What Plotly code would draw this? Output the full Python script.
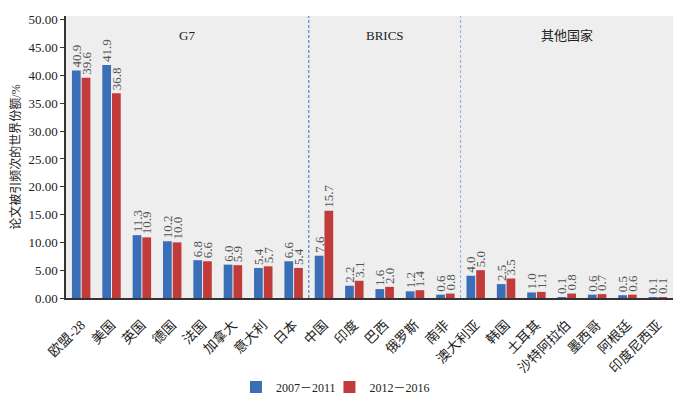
import plotly.graph_objects as go

categories = ["欧盟-28", "美国", "英国", "德国", "法国", "加拿大", "意大利", "日本",
              "中国", "印度", "巴西", "俄罗斯", "南非",
              "澳大利亚", "韩国", "土耳其", "沙特阿拉伯", "墨西哥", "阿根廷", "印度尼西亚"]
share_2007_2011 = [40.9, 41.9, 11.3, 10.2, 6.8, 6.0, 5.4, 6.6,
                   7.6, 2.2, 1.6, 1.2, 0.6,
                   4.0, 2.5, 1.0, 0.1, 0.6, 0.5, 0.1]
share_2012_2016 = [39.6, 36.8, 10.9, 10.0, 6.6, 5.9, 5.7, 5.4,
                   15.7, 3.1, 2.0, 1.4, 0.8,
                   5.0, 3.5, 1.1, 0.8, 0.7, 0.6, 0.1]
series_names = ["2007－2011", "2012－2016"]
group_names = ["G7", "BRICS", "其他国家"]
group_sizes = [8, 5, 7]
y_ticks = [0, 5, 10, 15, 20, 25, 30, 35, 40, 45, 50]

FONT = "Liberation Serif, Times New Roman, Noto Sans CJK SC, serif"
BLUE = "#3a6fb7"
RED = "#c23b3b"

fig = go.Figure()
for name, vals, col, lg in [(series_names[0], share_2007_2011, BLUE, "legend"),
                            (series_names[1], share_2012_2016, RED, "legend2")]:
    fig.add_trace(go.Bar(
        x=categories, y=vals, name=name, legend=lg,
        marker=dict(color=col, line=dict(width=0)),
        text=[f"{v:.1f}" for v in vals],
        textposition="outside", textangle=-90,
        constraintext="none", cliponaxis=False,
        textfont=dict(family=FONT, size=13, color="#555555"),
    ))

shapes = []
annotations = []
start = 0
div_colors = ["#3a6fb7", "#8fb0d8"]
for i, (g, n) in enumerate(zip(group_names, group_sizes)):
    end = start + n
    center = (start + end - 1) / 2
    annotations.append(dict(x=center, y=0.93, xref="x", yref="paper", yanchor="middle",
                            text=g, showarrow=False,
                            font=dict(family=FONT, size=13, color="#222")))
    if i < len(group_sizes) - 1:
        shapes.append(dict(type="line", xref="x", yref="paper",
                           x0=end - 0.5, x1=end - 0.5, y0=0, y1=1,
                           line=dict(color=div_colors[i], width=1, dash="3px,2px")))
    start = end

legend_style = dict(orientation="h", yanchor="middle", y=-0.316, xanchor="left",
                    font=dict(family=FONT, size=12), bgcolor="rgba(0,0,0,0)")
fig.update_layout(
    width=700, height=402,
    margin=dict(l=58, r=35, t=8, b=112, autoexpand=False),
    plot_bgcolor="#eeeeee", paper_bgcolor="white",
    barmode="group", bargap=0.36, bargroupgap=0.1,
    font=dict(family=FONT, size=12, color="#222"),
    shapes=shapes, annotations=annotations,
    legend=dict(x=0.28, **legend_style),
    legend2=dict(x=0.434, **legend_style),
    showlegend=True,
)
fig.update_yaxes(range=[0, 50.7], tickvals=y_ticks, tickformat=".2f", automargin=False,
                 showgrid=False, zeroline=False, showline=True, linecolor="#333",
                 linewidth=1.5, ticks="outside", ticklen=4, tickcolor="#333",
                 tickfont=dict(family=FONT, size=13),
                 title=dict(text="论文被引频次的世界份额/%",
                            font=dict(family=FONT, size=12), standoff=14))
fig.update_xaxes(showgrid=False, showline=True, linecolor="#333", linewidth=1.5,
                 automargin=False, tickangle=-45,
                 tickfont=dict(family=FONT, size=13.5),
                 ticks="outside", ticklen=12, tickcolor="rgba(0,0,0,0)")

fig.write_html("out.html")
